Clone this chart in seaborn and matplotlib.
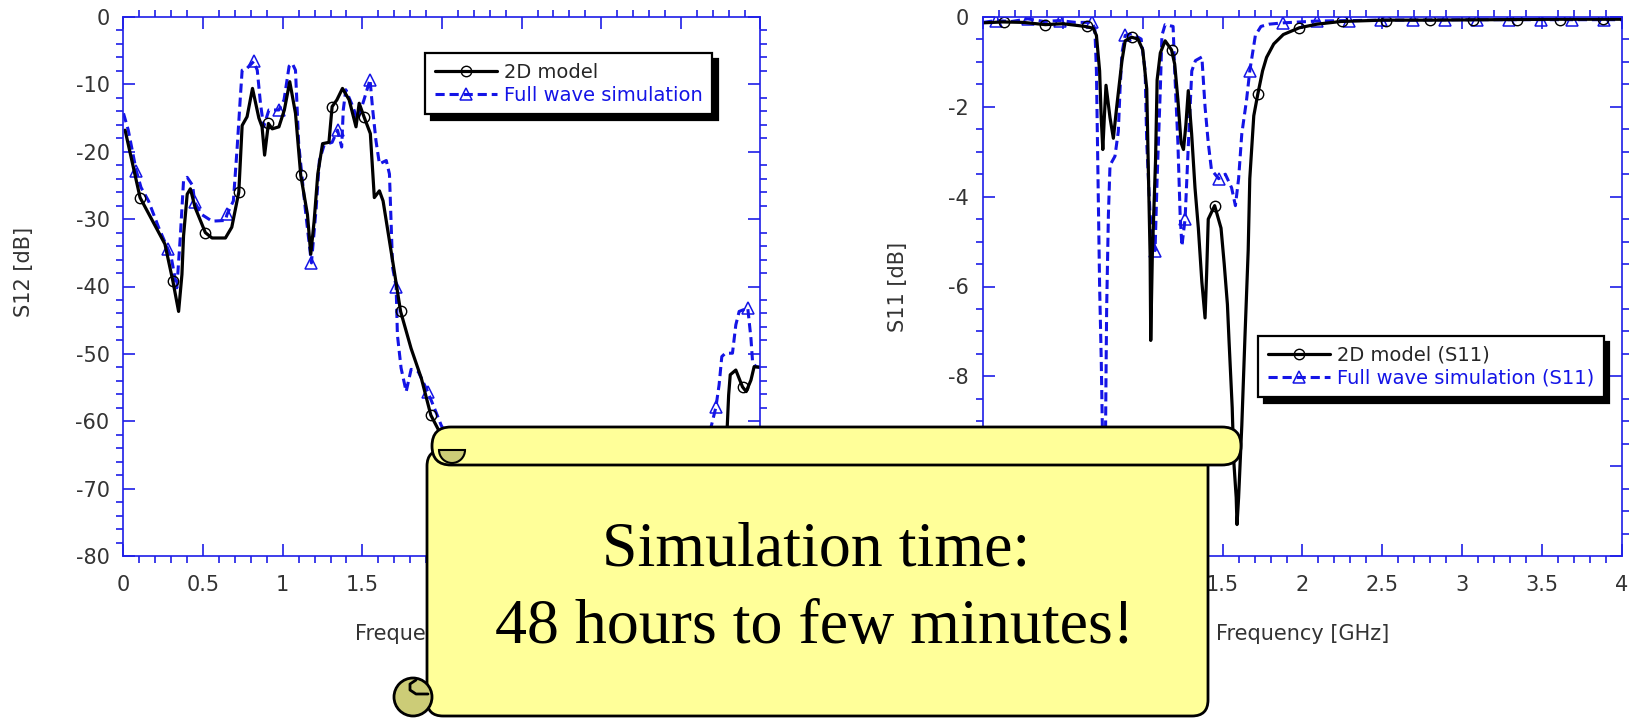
# S12 / S11 Vergleich: 2D-Modell gegen Full-Wave-Simulation

import matplotlib
matplotlib.use("Agg")
import matplotlib.pyplot as plt
import matplotlib.lines as mlines
from matplotlib.patches import FancyBboxPatch, Circle, Wedge
from matplotlib.ticker import MultipleLocator, FuncFormatter
import seaborn as sns


# Daten linkes Diagramm (S12)
s12_model_x = [0.01, 0.104, 0.26, 0.31, 0.346, 0.367, 0.377, 0.40, 0.42, 0.45, 0.514, 0.556,
               0.64, 0.68, 0.724, 0.745, 0.776, 0.81, 0.85, 0.87, 0.886, 0.91, 0.934, 0.976,
               1.01, 1.044, 1.08, 1.113, 1.155, 1.176, 1.197, 1.22, 1.25, 1.29, 1.31, 1.34,
               1.375, 1.417, 1.46, 1.48, 1.51, 1.55, 1.575, 1.607, 1.63, 1.69, 1.74, 1.806,
               1.87, 1.93, 1.985, 2.1, 2.4, 2.8, 3.2, 3.5, 3.78, 3.79, 3.80, 3.81, 3.845,
               3.887, 3.91, 3.94, 3.96, 4.0]
s12_model_y = [-16.8, -26.8, -33.7, -39.2, -43.7, -38.2, -32.5, -26.3, -25.5, -28.3, -32.0, -32.8,
               -32.8, -31.2, -26.0, -16.1, -14.8, -10.6, -15.0, -16.3, -20.5, -15.8, -16.6, -16.3,
               -13.8, -9.6, -14.3, -23.5, -29.3, -35.2, -30.3, -23.3, -18.8, -18.6, -13.3, -12.3,
               -10.6, -12.3, -16.3, -12.8, -14.8, -17.3, -26.8, -25.8, -27.3, -36.2, -43.7, -49.2,
               -53.6, -59.1, -61.6, -66.0, -72.0, -77.0, -76.0, -70.0, -66.0, -61.4, -56.1, -53.1,
               -52.4, -54.9, -55.6, -53.9, -51.9, -52.0]
s12_model_mx = [0.104, 0.31, 0.514, 0.724, 0.91, 1.113, 1.31, 1.51, 1.74, 1.93, 3.887]
s12_model_my = [-26.8, -39.2, -32.0, -26.0, -15.8, -23.5, -13.3, -14.8, -43.7, -59.1, -54.9]

s12_full_x = [0.0, 0.03, 0.08, 0.11, 0.157, 0.22, 0.28, 0.30, 0.335, 0.357, 0.377, 0.40, 0.434,
              0.447, 0.49, 0.556, 0.64, 0.65, 0.69, 0.714, 0.734, 0.745, 0.776, 0.818, 0.84,
              0.86, 0.88, 0.913, 0.976, 1.008, 1.04, 1.06, 1.08, 1.10, 1.145, 1.18, 1.21, 1.23,
              1.26, 1.31, 1.344, 1.37, 1.38, 1.396, 1.44, 1.47, 1.51, 1.548, 1.565, 1.585,
              1.607, 1.65, 1.67, 1.69, 1.712, 1.72, 1.743, 1.775, 1.806, 1.85, 1.91, 1.953,
              1.995, 2.1, 2.4, 2.8, 3.2, 3.5, 3.66, 3.687, 3.72, 3.74, 3.757, 3.78, 3.824,
              3.845, 3.866, 3.92, 3.94, 3.95, 3.97, 4.0]
s12_full_y = [-14.3, -16.8, -22.8, -25.3, -27.3, -31.2, -34.5, -35.7, -40.2, -32.5, -24.3, -23.8,
              -25.0, -27.5, -29.3, -30.3, -30.2, -29.3, -27.3, -19.3, -11.8, -7.9, -7.6, -6.6,
              -7.9, -12.8, -16.3, -13.8, -13.8, -12.3, -7.3, -6.9, -7.9, -18.8, -29.3, -36.5,
              -28.3, -21.3, -19.0, -18.6, -16.8, -19.3, -13.8, -10.8, -13.3, -15.3, -12.3, -9.3,
              -13.8, -18.3, -21.8, -21.3, -23.3, -37.2, -40.0, -47.2, -52.1, -55.6, -52.3, -52.6,
              -55.6, -58.1, -60.6, -65.0, -71.0, -75.0, -74.0, -69.0, -64.0, -61.1, -57.9, -54.6,
              -50.4, -49.9, -49.9, -45.7, -43.7, -43.2, -47.7, -51.1, -51.9, -52.0]
s12_full_mx = [0.08, 0.28, 0.447, 0.65, 0.818, 0.976, 1.18, 1.344, 1.548, 1.712, 1.91, 3.72, 3.92]
s12_full_my = [-22.8, -34.5, -27.5, -29.3, -6.6, -13.8, -36.5, -16.8, -9.3, -40.0, -55.6, -57.9, -43.2]

# Daten rechtes Diagramm (S11)
s11_model_x = [0.0, 0.125, 0.25, 0.39, 0.5, 0.64, 0.69, 0.71, 0.73, 0.74, 0.75, 0.76, 0.77,
               0.795, 0.816, 0.837, 0.87, 0.89, 0.93, 0.97, 1.0, 1.025, 1.035, 1.046, 1.05,
               1.06, 1.08, 1.09, 1.11, 1.14, 1.18, 1.2, 1.22, 1.24, 1.255, 1.27, 1.285, 1.306,
               1.327, 1.348, 1.37, 1.39, 1.40, 1.41, 1.45, 1.49, 1.51, 1.53, 1.54, 1.56, 1.57,
               1.585, 1.59, 1.6, 1.62, 1.64, 1.66, 1.67, 1.695, 1.72, 1.75, 1.775, 1.82, 1.88,
               1.98, 2.09, 2.24, 2.5, 2.8, 3.2, 3.6, 4.0]
s11_model_y = [-0.13, -0.11, -0.12, -0.17, -0.15, -0.21, -0.25, -0.41, -1.2, -2.24, -2.95, -2.2,
               -1.52, -2.24, -2.7, -2.0, -0.97, -0.53, -0.45, -0.49, -0.73, -1.6, -3.4, -5.3,
               -7.2, -5.3, -3.2, -1.4, -0.8, -0.53, -0.73, -1.05, -1.84, -2.8, -2.95, -2.4,
               -1.64, -2.6, -3.8, -4.7, -5.9, -6.7, -5.7, -4.5, -4.2, -4.7, -5.5, -6.4, -7.2,
               -8.7, -9.9, -10.7, -11.3, -10.7, -9.1, -7.1, -5.2, -3.6, -2.2, -1.72, -1.2, -0.9,
               -0.6, -0.39, -0.24, -0.16, -0.1, -0.07, -0.07, -0.06, -0.05, -0.05]
s11_model_mx = [0.13, 0.39, 0.65, 0.93, 1.18, 1.45, 1.72, 1.98, 2.25, 2.52, 2.8, 3.07, 3.34, 3.61, 3.88]
s11_model_my = [-0.11, -0.17, -0.21, -0.45, -0.73, -4.2, -1.72, -0.24, -0.1, -0.08, -0.07, -0.07,
                -0.06, -0.06, -0.05]

s11_full_x = [0.0, 0.08, 0.18, 0.28, 0.38, 0.48, 0.58, 0.68, 0.70, 0.71, 0.72, 0.73, 0.74, 0.747,
              0.752, 0.758, 0.763, 0.767, 0.77, 0.774, 0.785, 0.795, 0.826, 0.847, 0.858, 0.87,
              0.89, 0.93, 0.99, 1.015, 1.025, 1.046, 1.077, 1.09, 1.11, 1.12, 1.14, 1.19, 1.2,
              1.22, 1.234, 1.245, 1.265, 1.286, 1.307, 1.33, 1.37, 1.39, 1.41, 1.43, 1.475,
              1.517, 1.556, 1.58, 1.6, 1.62, 1.65, 1.67, 1.705, 1.74, 1.79, 1.88, 2.09, 2.5,
              3.0, 3.5, 4.0]
s11_full_y = [-0.12, -0.08, -0.1, -0.04, -0.1, -0.08, -0.12, -0.12, -0.25, -1.2, -3.6, -6.0,
              -7.6, -9.1, -11.0, -12.5, -11.0, -9.3, -8.0, -6.5, -4.4, -3.3, -3.1, -2.55, -1.6,
              -0.8, -0.41, -0.37, -0.49, -1.2, -2.8, -4.4, -5.2, -3.6, -1.6, -0.41, -0.17, -0.21,
              -1.2, -2.8, -4.4, -5.1, -4.5, -2.8, -1.2, -0.97, -0.89, -2.0, -2.8, -3.4, -3.6,
              -3.5, -3.8, -4.2, -3.6, -2.6, -1.84, -1.2, -0.41, -0.21, -0.16, -0.13, -0.09,
              -0.07, -0.06, -0.06, -0.06]
s11_full_mx = [0.08, 0.28, 0.48, 0.68, 0.89, 1.077, 1.265, 1.475, 1.67, 1.88, 2.09, 2.29, 2.49,
               2.69, 2.89, 3.09, 3.29, 3.49, 3.69, 3.89]
s11_full_my = [-0.08, -0.04, -0.08, -0.12, -0.41, -5.2, -4.5, -3.6, -1.2, -0.13, -0.09, -0.08,
               -0.07, -0.07, -0.06, -0.06, -0.06, -0.06, -0.06, -0.06]

# Beschriftungen
labels_links = ['2D model', 'Full wave simulation']
labels_rechts = ['2D model (S11)', 'Full wave simulation (S11)']
scroll_zeilen = ['Simulation time:', '48 hours to few minutes!']


# Stil
sns.set_style("white")
plt.rcParams['font.family'] = ['DejaVu Sans']

BLAU = '#1414e6'
ACHSE = '#1e1ee8'
GRAU = '#333333'
GELB = '#ffff99'
OLIV = '#cccc77'
STRICH = (0, (3, 1.6))

fig = plt.figure(figsize=(16.33, 7.18), dpi=100)
ax1 = fig.add_axes([123.5 / 1633, 1 - 556 / 718, 637 / 1633, 539 / 718])
ax2 = fig.add_axes([983 / 1633, 1 - 556 / 718, 639 / 1633, 539 / 718])


def kurven(ax, mx, my, mmx, mmy, fx, fy, fmx, fmy):
    # Full-Wave zuerst, dann 2D-Modell darüber
    sns.lineplot(x=fx, y=fy, ax=ax, color=BLAU, lw=2.2, linestyle=STRICH,
                 sort=False, estimator=None)
    sns.lineplot(x=fmx, y=fmy, ax=ax, linestyle='', marker='^', ms=8, mfc='none',
                 mec=BLAU, mew=1.1, estimator=None)
    sns.lineplot(x=mx, y=my, ax=ax, color='black', lw=2.3, sort=False, estimator=None)
    sns.lineplot(x=mmx, y=mmy, ax=ax, linestyle='', marker='o', ms=7.5, mfc='none',
                 mec='black', mew=1.0, estimator=None)


def formatter(verdeckt):
    # Beschriftungen unter der Schriftrolle bleiben leer
    return FuncFormatter(lambda v, p: '' if verdeckt(v) else f'{v + 0:g}')


def achse_stylen(ax, ymin, ymaj, ystep, ylab, ylab_x, ylab_y, x_verdeckt, y_verdeckt):
    ax.set_xlim(0, 4)
    ax.set_ylim(ymin, 0)
    ax.xaxis.set_major_locator(MultipleLocator(0.5))
    ax.xaxis.set_minor_locator(MultipleLocator(0.1))
    ax.yaxis.set_major_locator(MultipleLocator(ymaj))
    ax.yaxis.set_minor_locator(MultipleLocator(ystep))
    ax.xaxis.set_major_formatter(formatter(x_verdeckt))
    ax.yaxis.set_major_formatter(formatter(y_verdeckt))
    for sp in ax.spines.values():
        sp.set_color(ACHSE)
        sp.set_linewidth(1.2)
    ax.tick_params(which='major', direction='in', length=8.5, width=1.2, color=ACHSE,
                   top=True, right=True, bottom=True, left=True,
                   labelsize=15, labelcolor=GRAU)
    ax.tick_params(which='minor', direction='out', length=5, width=1.2, color=ACHSE,
                   top=True, right=True, bottom=True, left=True)
    ax.tick_params(axis='x', which='major', pad=14)
    ax.tick_params(axis='y', which='major', pad=10)
    ax.set_xlabel('Frequency [GHz]', fontsize=15, color=GRAU)
    ax.set_ylabel(ylab, fontsize=15, color=GRAU)
    ax.xaxis.set_label_coords(0.5, -0.126)
    ax.yaxis.set_label_coords(ylab_x, ylab_y)


def legende(ax, labels, anker):
    h1 = mlines.Line2D([], [], color='black', lw=2.3, marker='o', ms=7.5, mfc='none', mew=1.0)
    h2 = mlines.Line2D([], [], color=BLAU, lw=2.2, linestyle=STRICH, marker='^', ms=8,
                       mfc='none', mew=1.1)
    leg = ax.legend(handles=[h1, h2], labels=labels, loc='upper left', bbox_to_anchor=anker,
                    borderaxespad=0, frameon=True, fancybox=False, edgecolor='black',
                    framealpha=1, fontsize=14, handlelength=3.2, handletextpad=0.35,
                    labelspacing=0.2, borderpad=0.5,
                    shadow={'ox': 4, 'oy': -4, 'facecolor': 'black', 'edgecolor': 'black',
                            'alpha': 1})
    leg.get_frame().set_linewidth(1.6)
    leg.get_texts()[1].set_color(BLAU)
    return leg


kurven(ax1, s12_model_x, s12_model_y, s12_model_mx, s12_model_my,
       s12_full_x, s12_full_y, s12_full_mx, s12_full_my)
kurven(ax2, s11_model_x, s11_model_y, s11_model_mx, s11_model_my,
       s11_full_x, s11_full_y, s11_full_mx, s11_full_my)

achse_stylen(ax1, -80, 10, 2, 'S12 [dB]', -0.14, 0.527,
             lambda v: v > 1.75, lambda v: False)
achse_stylen(ax2, -12, 2, 0.5, 'S11 [dB]', -0.117, 0.50,
             lambda v: v < 1.25, lambda v: v < -9)

legende(ax1, labels_links, ((425 - 123.5) / 637, (556 - 53) / 539))
legende(ax2, labels_rechts, ((1258 - 983) / 639, (556 - 336) / 539))


# Schriftrolle als Overlay in Pixelkoordinaten
ov = fig.add_axes([0, 0, 1, 1], zorder=10)
ov.set_xlim(0, 1633)
ov.set_ylim(718, 0)
ov.axis('off')
ov.patch.set_alpha(0)

# Rumpf
ov.add_patch(FancyBboxPatch((427, 450), 781, 266, boxstyle='round,pad=0,rounding_size=16',
                            fc=GELB, ec='black', lw=2))
# untere Rolle links
ov.add_patch(Circle((413, 697), 19, fc=OLIV, ec='black', lw=2))
ov.plot([416, 410, 410, 416, 428], [680, 684, 690, 694, 694], color='black', lw=2,
        solid_capstyle='round')
# obere Rolle
ov.add_patch(FancyBboxPatch((432, 427), 809, 38, boxstyle='round,pad=0,rounding_size=19',
                            fc=GELB, ec='black', lw=2))
ov.add_patch(Wedge((452, 450), 13, 0, 180, fc=OLIV, ec='black', lw=1.5))

ov.text(816, 566, scroll_zeilen[0], ha='center', va='baseline', fontsize=46,
        family='Liberation Serif', color='black')
ov.text(815, 643, scroll_zeilen[1], ha='center', va='baseline', fontsize=46,
        family='Liberation Serif', color='black')

fig.savefig('out.png', dpi=100)
